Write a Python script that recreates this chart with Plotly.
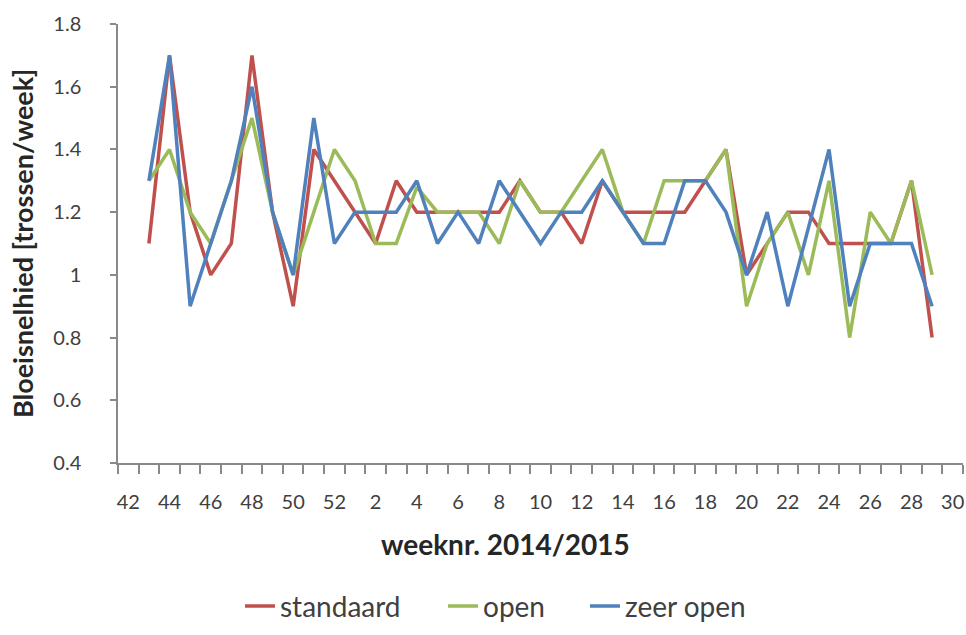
import plotly.graph_objects as go

# Week categories (2014 weeks 42-52, 2015 weeks 1-30)
weeks = [str(w) for w in range(42, 53)] + [str(w) for w in range(1, 31)]
tick_text = [w if int(w) % 2 == 0 else "" for w in weeks]

# Data weeks: 43 (2014) .. 29 (2015)
data_weeks = weeks[1:40]

standaard = [1.1, 1.7, 1.2, 1.0, 1.1, 1.7, 1.2, 0.9, 1.4, 1.3,
             1.2, 1.1, 1.3, 1.2, 1.2, 1.2, 1.2, 1.2, 1.3, 1.2,
             1.2, 1.1, 1.3, 1.2, 1.2, 1.2, 1.2, 1.3, 1.4, 1.0,
             1.1, 1.2, 1.2, 1.1, 1.1, 1.1, 1.1, 1.3, 0.8]
open_ = [1.3, 1.4, 1.2, 1.1, 1.3, 1.5, 1.2, 1.0, 1.2, 1.4,
         1.3, 1.1, 1.1, 1.28, 1.2, 1.2, 1.2, 1.1, 1.3, 1.2,
         1.2, 1.3, 1.4, 1.2, 1.1, 1.3, 1.3, 1.3, 1.4, 0.9,
         1.1, 1.2, 1.0, 1.3, 0.8, 1.2, 1.1, 1.3, 1.0]
zeer_open = [1.3, 1.7, 0.9, 1.1, 1.3, 1.6, 1.2, 1.0, 1.5, 1.1,
             1.2, 1.2, 1.2, 1.3, 1.1, 1.2, 1.1, 1.3, 1.2, 1.1,
             1.2, 1.2, 1.3, 1.2, 1.1, 1.1, 1.3, 1.3, 1.2, 1.0,
             1.2, 0.9, 1.15, 1.4, 0.9, 1.1, 1.1, 1.1, 0.9]

series_names = ["standaard", "open", "zeer open"]
series_values = [standaard, open_, zeer_open]
series_colors = ["#C0504D", "#9BBB59", "#4F81BD"]

FONT = "Lato, 'Liberation Sans', sans-serif"
W, H = 966, 635
AXIS_Y = 468  # pixel row of the x axis
L, R, T, B = 118, 3, 24, H - AXIS_Y
PLOT_W, PLOT_H = W - L - R, H - T - B


def py(y_px):
    return -(y_px - AXIS_Y) / PLOT_H


def px(x_px):
    return (x_px - L) / PLOT_W


legend_ids = ["legend", "legend2", "legend3"]
legend_text_x = [280, 483, 625]

fig = go.Figure()
for name, vals, col, lid in zip(series_names, series_values, series_colors, legend_ids):
    fig.add_trace(go.Scatter(x=data_weeks, y=vals, mode="lines", name=name,
                             line=dict(color=col, width=3.5), legend=lid))

legend_layout = {}
for lid, tx in zip(legend_ids, legend_text_x):
    legend_layout[lid] = dict(
        orientation="h", x=px(tx - 40), xanchor="left",
        y=py(613), yanchor="middle",
        font=dict(size=28, color="#404040", family=FONT),
        bgcolor="rgba(0,0,0,0)", itemwidth=30)

fig.update_layout(
    width=W, height=H,
    margin=dict(l=L, r=R, t=T, b=B),
    paper_bgcolor="white", plot_bgcolor="white",
    font=dict(family=FONT, size=20, color="#404040"),
    showlegend=True,
    **legend_layout,
)

fig.update_xaxes(
    type="category", categoryorder="array", categoryarray=weeks,
    range=[-0.5, len(weeks) - 0.5],
    tickmode="array", tickvals=weeks, ticktext=tick_text, tickangle=0,
    tickson="boundaries", ticks="outside", ticklen=9, tickcolor="#898989", tickwidth=1.5,
    showline=True, linecolor="#898989", linewidth=1.5,
    showgrid=False, zeroline=False, automargin=False,
    tickfont=dict(size=20, color="#404040"),
    ticklabelstandoff=20,
)
fig.update_yaxes(
    range=[0.4, 1.8], dtick=0.2, tick0=0.4,
    ticks="outside", ticklen=6, tickcolor="#898989", tickwidth=1.5,
    showline=True, linecolor="#898989", linewidth=1.5,
    showgrid=False, zeroline=False, automargin=False,
    tickfont=dict(size=20, color="#404040"),
    ticklabelstandoff=25,
    title=dict(text="<b>Bloeisnelhied [trossen/week]</b>", font=dict(size=27, color="#262626"), standoff=12),
)

fig.add_annotation(text="<b>weeknr. 2014/2015</b>", xref="paper", yref="paper",
                   x=px(505), y=py(550), xanchor="center", yanchor="middle",
                   showarrow=False, font=dict(size=28, color="#262626", family=FONT))

fig.write_html("out.html", config={"displayModeBar": False},
               post_script="document.body.style.margin='0';document.body.style.overflow='hidden';"
                           "document.documentElement.style.overflow='hidden';")
